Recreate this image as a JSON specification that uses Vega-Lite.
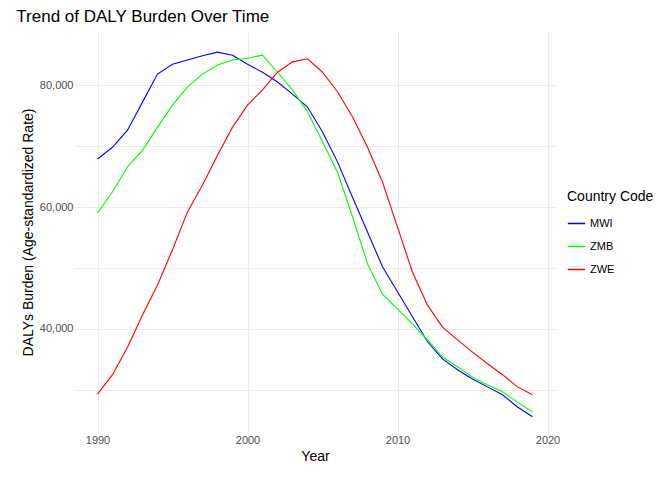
{"$schema":"https://vega.github.io/schema/vega-lite/v6.json","width":480,"height":400,"autosize":"none","padding":{"left":75,"top":32,"right":117,"bottom":48},
"title":{"text":"Trend of DALY Burden Over Time","anchor":"start","fontSize":17,"fontWeight":"normal","font":"Liberation Sans","color":"#000","offset":6,"dx":-5},
"data":{"values":[
{"y":1990,"c":"MWI","v":67870},{"y":1991,"c":"MWI","v":69800},{"y":1992,"c":"MWI","v":72600},{"y":1993,"c":"MWI","v":77200},{"y":1994,"c":"MWI","v":81800},{"y":1995,"c":"MWI","v":83400},{"y":1996,"c":"MWI","v":84100},{"y":1997,"c":"MWI","v":84800},{"y":1998,"c":"MWI","v":85400},{"y":1999,"c":"MWI","v":84900},{"y":2000,"c":"MWI","v":83400},{"y":2001,"c":"MWI","v":82100},{"y":2002,"c":"MWI","v":80500},{"y":2003,"c":"MWI","v":78500},{"y":2004,"c":"MWI","v":76400},{"y":2005,"c":"MWI","v":72300},{"y":2006,"c":"MWI","v":67400},{"y":2007,"c":"MWI","v":61600},{"y":2008,"c":"MWI","v":55900},{"y":2009,"c":"MWI","v":50200},{"y":2010,"c":"MWI","v":46100},{"y":2011,"c":"MWI","v":42000},{"y":2012,"c":"MWI","v":37900},{"y":2013,"c":"MWI","v":35100},{"y":2014,"c":"MWI","v":33300},{"y":2015,"c":"MWI","v":31800},{"y":2016,"c":"MWI","v":30500},{"y":2017,"c":"MWI","v":29200},{"y":2018,"c":"MWI","v":27200},{"y":2019,"c":"MWI","v":25600},
{"y":1990,"c":"ZMB","v":59000},{"y":1991,"c":"ZMB","v":62500},{"y":1992,"c":"ZMB","v":66600},{"y":1993,"c":"ZMB","v":69300},{"y":1994,"c":"ZMB","v":73100},{"y":1995,"c":"ZMB","v":76700},{"y":1996,"c":"ZMB","v":79700},{"y":1997,"c":"ZMB","v":81800},{"y":1998,"c":"ZMB","v":83300},{"y":1999,"c":"ZMB","v":84100},{"y":2000,"c":"ZMB","v":84400},{"y":2001,"c":"ZMB","v":84900},{"y":2002,"c":"ZMB","v":82100},{"y":2003,"c":"ZMB","v":79200},{"y":2004,"c":"ZMB","v":75600},{"y":2005,"c":"ZMB","v":70700},{"y":2006,"c":"ZMB","v":65700},{"y":2007,"c":"ZMB","v":58400},{"y":2008,"c":"ZMB","v":50700},{"y":2009,"c":"ZMB","v":45700},{"y":2010,"c":"ZMB","v":43300},{"y":2011,"c":"ZMB","v":40800},{"y":2012,"c":"ZMB","v":38200},{"y":2013,"c":"ZMB","v":35400},{"y":2014,"c":"ZMB","v":33800},{"y":2015,"c":"ZMB","v":32100},{"y":2016,"c":"ZMB","v":30800},{"y":2017,"c":"ZMB","v":29700},{"y":2018,"c":"ZMB","v":28000},{"y":2019,"c":"ZMB","v":26400},
{"y":1990,"c":"ZWE","v":29300},{"y":1991,"c":"ZWE","v":32500},{"y":1992,"c":"ZWE","v":37000},{"y":1993,"c":"ZWE","v":42300},{"y":1994,"c":"ZWE","v":47200},{"y":1995,"c":"ZWE","v":53000},{"y":1996,"c":"ZWE","v":59200},{"y":1997,"c":"ZWE","v":63600},{"y":1998,"c":"ZWE","v":68500},{"y":1999,"c":"ZWE","v":73100},{"y":2000,"c":"ZWE","v":76700},{"y":2001,"c":"ZWE","v":79200},{"y":2002,"c":"ZWE","v":82100},{"y":2003,"c":"ZWE","v":83800},{"y":2004,"c":"ZWE","v":84300},{"y":2005,"c":"ZWE","v":82100},{"y":2006,"c":"ZWE","v":78900},{"y":2007,"c":"ZWE","v":74800},{"y":2008,"c":"ZWE","v":69800},{"y":2009,"c":"ZWE","v":64100},{"y":2010,"c":"ZWE","v":56700},{"y":2011,"c":"ZWE","v":49300},{"y":2012,"c":"ZWE","v":43900},{"y":2013,"c":"ZWE","v":40300},{"y":2014,"c":"ZWE","v":38200},{"y":2015,"c":"ZWE","v":36200},{"y":2016,"c":"ZWE","v":34300},{"y":2017,"c":"ZWE","v":32500},{"y":2018,"c":"ZWE","v":30500},{"y":2019,"c":"ZWE","v":29200}]},
"mark":{"type":"line","strokeWidth":1.1},
"encoding":{
"x":{"field":"y","type":"quantitative","title":"Year","scale":{"domain":[1988.5,2020.5],"nice":false,"zero":false},"axis":{"values":[1990,2000,2010,2020],"format":"d","gridColor":"#ebebeb","domain":false,"ticks":false,"labelColor":"#4d4d4d","labelFontSize":11,"titleFontSize":14,"titleFontWeight":"normal","titleColor":"#000","labelFont":"Liberation Sans","titleFont":"Liberation Sans","titlePadding":4}},
"y":{"field":"v","type":"quantitative","title":"DALYs Burden (Age-standardized Rate)","scale":{"domain":[23100,88700],"nice":false,"zero":false},"axis":{"values":[30000,40000,50000,60000,70000,80000],"labelExpr":"datum.value % 20000 == 0 ? format(datum.value, ',') : ''","gridColor":"#ebebeb","domain":false,"ticks":false,"labelColor":"#4d4d4d","labelFontSize":11,"titleFontSize":14,"titleFontWeight":"normal","titleColor":"#000","labelFont":"Liberation Sans","titleFont":"Liberation Sans"}},
"color":{"field":"c","type":"nominal","title":"Country Code","scale":{"domain":["MWI","ZMB","ZWE"],"range":["#0000ff","#00ff00","#ff0000"]},"legend":{"orient":"none","legendX":492,"legendY":158,"titleFontSize":14,"titleFontWeight":"normal","titleColor":"#000","labelFontSize":11,"labelColor":"#000","symbolType":"stroke","symbolSize":300,"titleFont":"Liberation Sans","labelFont":"Liberation Sans","rowPadding":8,"titlePadding":10}}
},
"config":{"view":{"stroke":null}}}
